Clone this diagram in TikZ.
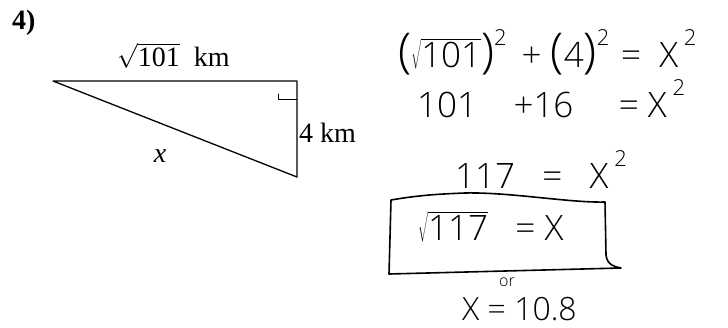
\documentclass[tikz,border=0pt]{standalone}
\usepackage{fontspec}
\setmainfont{Liberation Serif}
\newfontfamily\hand{Open Sans}[UprightFont=* Light]
\begin{document}
\begin{tikzpicture}[x=1pt,y=-1pt,line cap=round,line join=round]
\tikzset{
  typed/.style={font=\fontsize{28}{32}\selectfont,inner sep=0pt},
  hw/.style={font=\hand\fontsize{35}{38}\selectfont,inner sep=0pt},
  hwsmall/.style={font=\hand\fontsize{16}{18}\selectfont,inner sep=0pt},
  edge/.style={line width=1.3pt},
  hwline/.style={line width=1.6pt}
}
\newcommand{\bigpar}[1]{{\fontsize{48}{48}\selectfont #1}}
\newcommand{\sqd}{\raisebox{0.62em}{\fontsize{22}{22}\selectfont 2}}
\useasboundingbox (0,0) rectangle (728,327);
% triangle
\coordinate (A) at (53,81);
\coordinate (B) at (297,81);
\coordinate (C) at (297,177);
\draw[edge] (A) -- (B) -- (C) -- cycle;
\coordinate (R1) at (278,94);
\coordinate (R2) at (278,99);
\coordinate (R3) at (297,99);
\draw[line width=1pt] (R1) -- (R2) -- (R3);
% typed labels
\node[typed,font=\bfseries\fontsize{28}{32}\selectfont,anchor=base west] (num) at (12,29) {4)};
\node[typed,anchor=base west] (top) at (117,66) {$\sqrt{\mbox{101}}$\ \ km};
\node[typed,font=\itshape\fontsize{28}{32}\selectfont] (hyp) at (160,156) {x};
\node[typed,anchor=base west] (side) at (299,142) {4 km};
% handwritten work
\node[hw,anchor=base west] (l1) at (398,67) {\bigpar{(}$\sqrt{\mbox{\hand 101}}$\bigpar{)}\sqd\ \,+\ \bigpar{(}4\bigpar{)}\sqd\,\,=\ \ X\,\sqd};
\node[hw,anchor=base west] (l2) at (417,117) {101\ \ \ \ +16\ \ \ \ \ = X\,\sqd};
\node[hw,anchor=base west] (l3) at (455,188) {117\ \ \ = \ \ X\,\sqd};
\node[hw,anchor=base west] (box) at (418,240) {$\sqrt{\mbox{\hand 117}}$\ \ \ =\ X};
\draw[hwline] (391,200) .. controls (420,195) and (440,194) .. (465,193) .. controls (510,192) and (570,203) .. (605,202) -- (606,255) .. controls (607,265) and (615,267) .. (621,268) -- (389,274) -- cycle;
\node[hwsmall] (or) at (507,282) {or};
\node[hw,font=\hand\fontsize{32}{36}\selectfont,anchor=base west] (ans) at (462,320) {X = 10.8};
\end{tikzpicture}
\end{document}
